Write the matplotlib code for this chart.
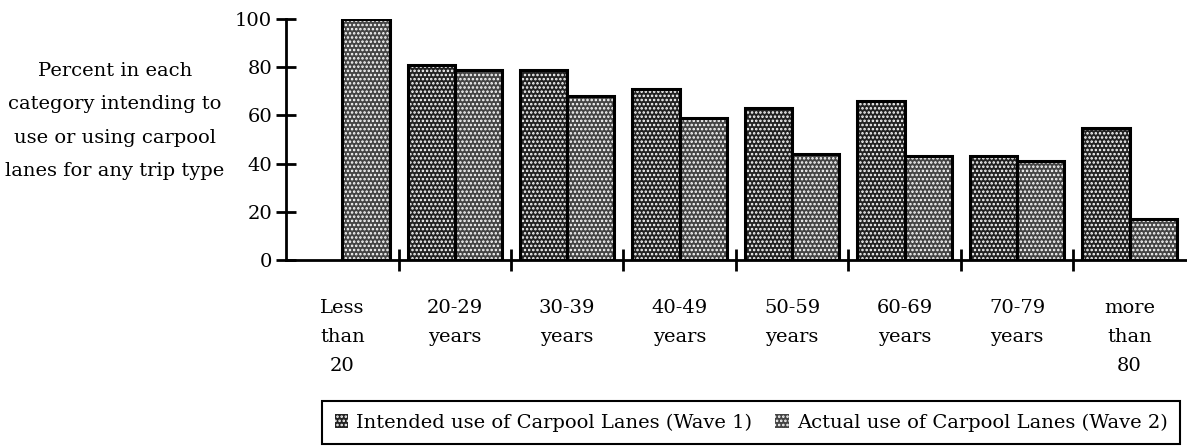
import matplotlib
matplotlib.use("Agg")
import matplotlib.pyplot as plt
from matplotlib.patches import Patch
import numpy as np

plt.rcParams['font.family'] = ['DejaVu Serif']
plt.rcParams['hatch.linewidth'] = 1.2

categories = ["Less\nthan\n20", "20-29\nyears", "30-39\nyears", "40-49\nyears",
              "50-59\nyears", "60-69\nyears", "70-79\nyears", "more\nthan\n80"]
wave1 = [0, 81, 79, 71, 63, 66, 43, 55]    # intended use (wave 1)
wave2 = [100, 79, 68, 59, 44, 43, 41, 17]  # actual use (wave 2)
yticks = [0, 20, 40, 60, 80, 100]

fs = 14
fig = plt.figure(figsize=(11.87, 4.48), dpi=100)
ax = fig.add_axes([0.241, 0.42, 0.758, 0.537])

x = np.arange(len(categories))
w = 0.42
c = x + 0.5

def draw(xpos, vals, face, hatch):
    ax.bar(xpos, vals, w, color=face, edgecolor='white', hatch=hatch, linewidth=0, zorder=2)
    ax.bar(xpos, vals, w, fill=False, edgecolor='black', linewidth=2.2, zorder=3)

m1 = np.array(wave1) > 0
draw(c[m1] - w / 2, np.array(wave1)[m1], '#222222', '....')
draw(c + w / 2, wave2, '#444444', '....')

ax.set_xlim(0, 8)
ax.set_ylim(0, 100)
for s in ['top', 'right']:
    ax.spines[s].set_visible(False)
ax.spines['left'].set_linewidth(2)
ax.spines['bottom'].set_linewidth(2)

ax.set_yticks(yticks)
ax.tick_params(axis='y', direction='inout', length=14, width=2, labelsize=fs, pad=3)
ax.set_xticks(np.arange(1, 8))
ax.set_xticklabels([])
ax.tick_params(axis='x', which='major', direction='inout', length=16, width=2)
ax.set_xticks(x + 0.5, minor=True)
ax.set_xticklabels(categories, minor=True, fontsize=fs, va='top')
ax.tick_params(axis='x', which='minor', length=0, pad=28)
for t in ax.get_xticklabels(minor=True):
    t.set_linespacing(1.8)

fig.text(115 / 1187, 1 - 121 / 448,
         "Percent in each\ncategory intending to\nuse or using carpool\nlanes for any trip type",
         ha='center', va='center', multialignment='center', fontsize=fs, linespacing=2.1)

handles = [Patch(facecolor='#222222', edgecolor='white', hatch='....', linewidth=0),
           Patch(facecolor='#444444', edgecolor='white', hatch='....', linewidth=0)]
leg = fig.legend(handles, ["Intended use of Carpool Lanes (Wave 1)",
                           "Actual use of Carpool Lanes (Wave 2)"],
                 ncol=2, loc='center', bbox_to_anchor=(751 / 1187, 1 - 422.5 / 448),
                 fontsize=fs, frameon=True, fancybox=False, framealpha=1,
                 handlelength=0.7, handleheight=0.7, handletextpad=0.4,
                 columnspacing=1.2, borderpad=0.65)
leg.get_frame().set_edgecolor('black')
leg.get_frame().set_linewidth(1.5)

fig.savefig("out.png", dpi=100)
